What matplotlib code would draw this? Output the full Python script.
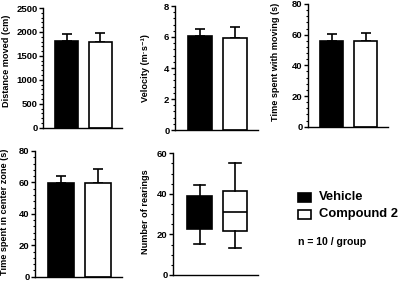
import matplotlib
matplotlib.use("Agg")
import matplotlib.pyplot as plt
from matplotlib.patches import Rectangle
from matplotlib.ticker import MultipleLocator

plt.rcParams["font.family"] = ["Liberation Sans", "DejaVu Sans"]
plt.rcParams["font.weight"] = "bold"

groups = ["Vehicle", "Compound 2"]
colors = ["black", "white"]

# bar panels: mean and upper SD
distance_mean = [1812, 1785]
distance_err = [153, 201]
velocity_mean = [6.06, 5.96]
velocity_err = [0.44, 0.66]
moving_mean = [55.9, 55.7]
moving_err = [4.3, 5.4]
center_mean = [59.6, 59.6]
center_err = [4.2, 9.1]

# rearings box plot (whiskers min-max)
rear_low = [15.3, 13.5]
rear_q1 = [22.5, 21.9]
rear_med = [31.0, 31.1]
rear_q3 = [39.1, 41.6]
rear_high = [44.4, 55.1]

W, H = 400, 287
fig = plt.figure(figsize=(W / 100, H / 100), dpi=100)
TICK_FS = 6.8


def make_ax(x0, x1, ytop, ybot):
    ax = fig.add_axes([x0 / W, 1 - ybot / H, (x1 - x0) / W, (ybot - ytop) / H])
    for s in ["top", "right"]:
        ax.spines[s].set_visible(False)
    for s in ["left", "bottom"]:
        ax.spines[s].set_linewidth(1.0)
    ax.set_xticks([])
    ax.set_xlim(-0.7, 1.65)
    ax.tick_params(axis="y", which="major", length=3, width=1.0,
                   labelsize=TICK_FS, pad=1)
    ax.tick_params(axis="y", which="minor", length=1.8, width=0.8)
    return ax


def bold_ticks(ax):
    for lab in ax.get_yticklabels():
        lab.set_fontweight("bold")


def bar_panel(ax, means, errs, top, major, minor):
    ax.bar([0, 1], means, width=0.68, color=colors, edgecolor="black",
           linewidth=1.2, zorder=2)
    ax.errorbar([0, 1], means, yerr=[[0, 0], errs], fmt="none", ecolor="black",
                elinewidth=1.2, capsize=3.5, capthick=1.2, zorder=1)
    ax.set_ylim(0, top)
    ax.yaxis.set_major_locator(MultipleLocator(major))
    ax.yaxis.set_minor_locator(MultipleLocator(minor))
    bold_ticks(ax)


ax1 = make_ax(43, 122, 8, 127.7)
bar_panel(ax1, distance_mean, distance_err, 2500, 500, 100)
ax2 = make_ax(175, 258, 6, 130)
bar_panel(ax2, velocity_mean, velocity_err, 8, 2, 0.4)
ax3 = make_ax(308, 388, 4, 126.7)
bar_panel(ax3, moving_mean, moving_err, 80, 20, 4)
ax4 = make_ax(35, 122, 151, 276.7)
bar_panel(ax4, center_mean, center_err, 80, 20, 4)

ax5 = make_ax(173, 258, 153.3, 275)
stats = []
for i in range(2):
    stats.append({"whislo": rear_low[i], "q1": rear_q1[i], "med": rear_med[i],
                  "q3": rear_q3[i], "whishi": rear_high[i], "fliers": []})
bp = ax5.bxp(stats, positions=[0, 1], widths=0.7, patch_artist=True,
             showfliers=False,
             boxprops=dict(linewidth=1.2, edgecolor="black"),
             whiskerprops=dict(linewidth=1.2, color="black"),
             capprops=dict(linewidth=1.2, color="black"),
             medianprops=dict(linewidth=1.2, color="black"), capwidths=0.32)
for patch, c in zip(bp["boxes"], colors):
    patch.set_facecolor(c)
ax5.set_xticks([])
ax5.set_xlim(-0.75, 1.65)
ax5.set_ylim(0, 60)
ax5.yaxis.set_major_locator(MultipleLocator(20))
ax5.yaxis.set_minor_locator(MultipleLocator(5))
bold_ticks(ax5)

# axis titles
lab_kw = dict(rotation=90, ha="center", va="center", fontsize=6.6, fontweight="bold")
fig.text(7 / W, 1 - 61 / H, "Distance moved (cm)", **lab_kw)
fig.text(145 / W, 1 - 68 / H, "Velocity (m·s⁻¹)", **lab_kw)
fig.text(275 / W, 1 - 62 / H, "Time spent with moving (s)", **lab_kw)
fig.text(5 / W, 1 - 212 / H, "Time spent in center zone (s)", **lab_kw)
fig.text(145 / W, 1 - 212 / H, "Number of rearings", **lab_kw)

# legend
for i, (g, c) in enumerate(zip(groups, colors)):
    yc = 197.5 + i * 17
    fig.add_artist(Rectangle((298 / W, 1 - (yc + 4.5) / H), 13 / W, 9 / H,
                             transform=fig.transFigure, facecolor=c,
                             edgecolor="black", linewidth=1.2))
    fig.text(319 / W, 1 - yc / H, g, fontsize=9.4, fontweight="bold", va="center")
fig.text(298 / W, 1 - 242 / H, "n = 10 / group", fontsize=7.6, fontweight="bold",
         va="center")

fig.savefig("out.png", dpi=100)
